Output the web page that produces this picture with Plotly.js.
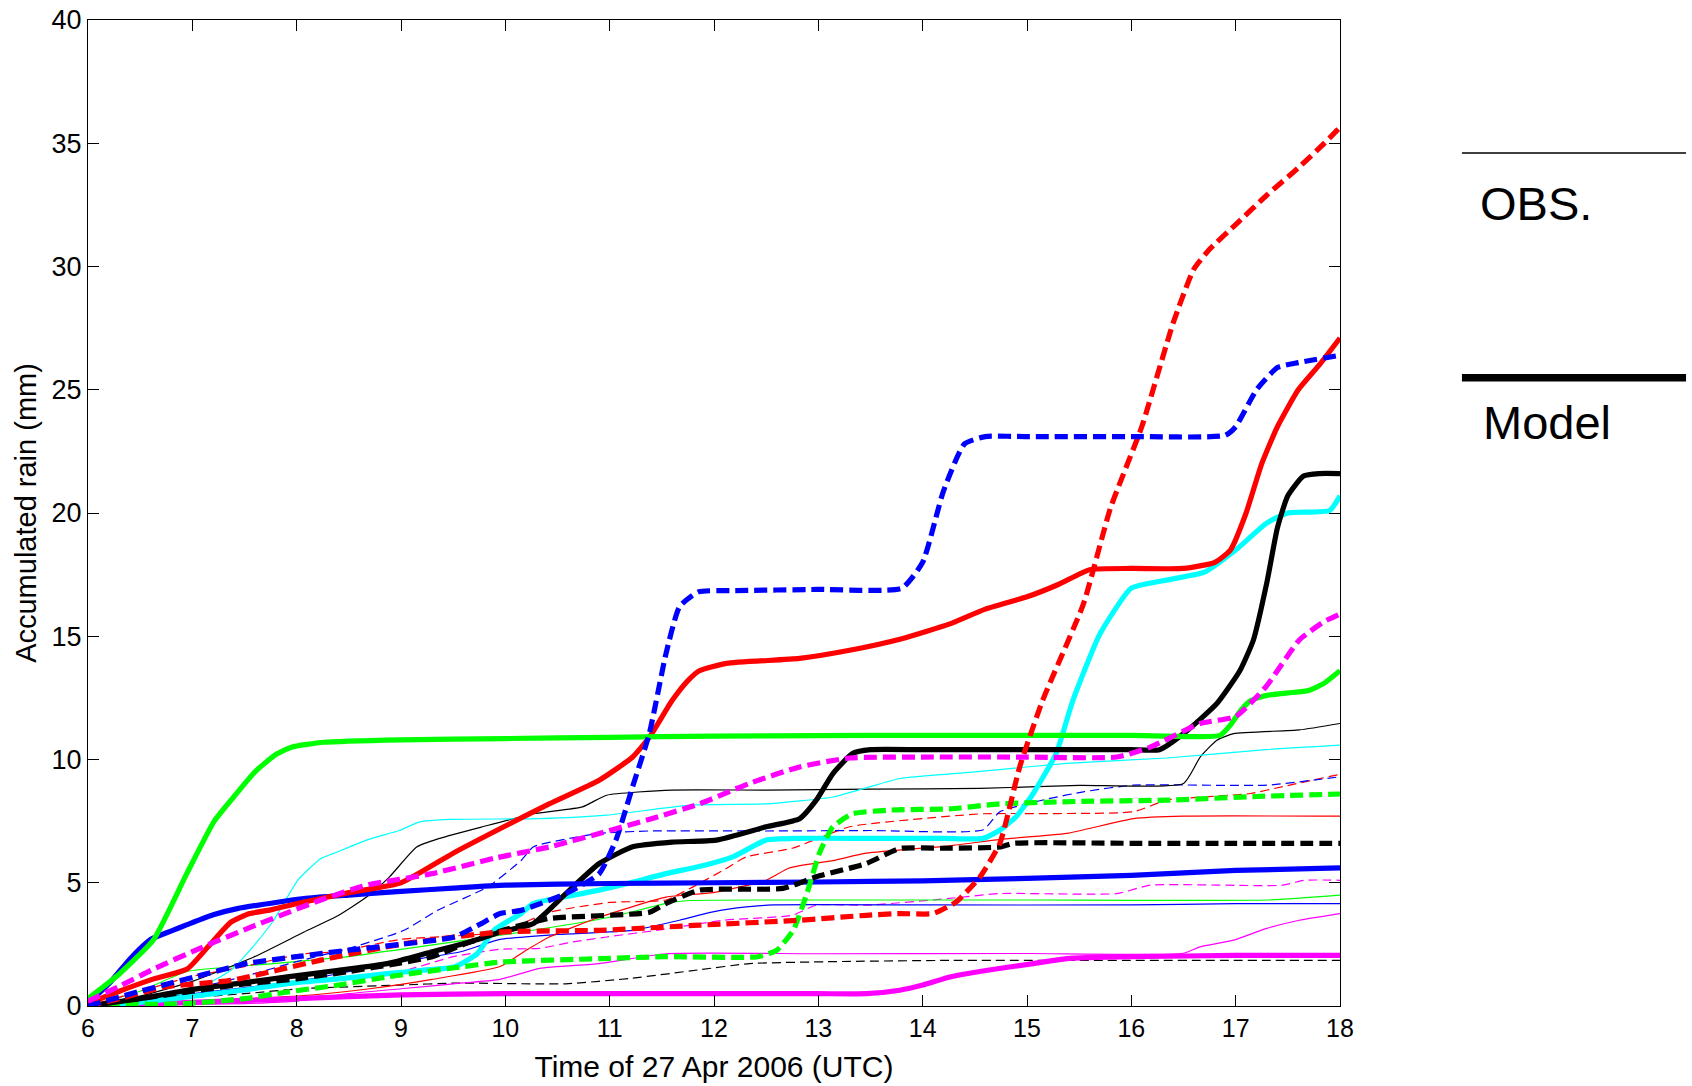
<!DOCTYPE html>
<html>
<head>
<meta charset="utf-8">
<script src="https://cdn.plot.ly/plotly-3.0.1.min.js"></script>
<style>
  html, body { margin: 0; padding: 0; background: #ffffff; }
  #chart { width: 1692px; height: 1086px; }
</style>
</head>
<body>
<div id="chart"></div>
<script>
// ---------- Axis ticks ----------
const xTicks = [6, 7, 8, 9, 10, 11, 12, 13, 14, 15, 16, 17, 18];
const yTicks = [0, 5, 10, 15, 20, 25, 30, 35, 40];

// ---------- OBS. (thin) series: time in hours UTC, accumulated rain (mm) ----------
const tObsCyan = [6.0, 6.5, 7.0, 7.37, 7.58, 7.78, 8.01, 8.23, 8.39, 8.67, 8.99, 9.18, 9.47, 10.33, 10.97, 11.77, 12.5, 13.14, 13.5, 13.78, 14.5, 15.38, 16.34, 17.29, 18.0];
const rObsCyan = [0.0, 0.2, 0.6, 1.45, 2.4, 3.48, 5.1, 5.97, 6.25, 6.73, 7.13, 7.47, 7.57, 7.6, 7.74, 8.15, 8.2, 8.48, 8.9, 9.23, 9.5, 9.84, 10.06, 10.4, 10.58];

const tObsBlack = [6.0, 6.5, 7.0, 7.59, 8.07, 8.39, 8.67, 8.89, 9.15, 9.37, 9.78, 10.27, 10.74, 10.97, 11.6, 12.5, 13.5, 14.55, 15.5, 16.5, 16.66, 16.82, 16.98, 17.61, 18.0];
const rObsBlack = [0.0, 0.4, 1.0, 1.99, 3.0, 3.65, 4.42, 5.24, 6.45, 6.8, 7.27, 7.8, 8.08, 8.55, 8.76, 8.76, 8.8, 8.83, 8.95, 9.03, 10.1, 10.78, 11.05, 11.2, 11.46];

const tObsBlueDash = [6.0, 6.5, 7.0, 7.5, 8.0, 8.55, 9.03, 9.35, 9.83, 10.15, 10.27, 10.9, 11.38, 12.5, 13.5, 14.58, 14.74, 15.2, 15.54, 16.02, 17.3, 18.0];
const rObsBlueDash = [0.0, 0.3, 0.7, 1.2, 1.8, 2.4, 3.07, 3.88, 4.83, 5.9, 6.46, 7.0, 7.1, 7.1, 7.12, 7.15, 7.88, 8.4, 8.69, 8.96, 8.96, 9.3];

const tObsRedDash = [6.0, 6.5, 7.0, 7.5, 8.03, 8.39, 8.99, 9.95, 10.42, 11.0, 11.54, 11.77, 12.09, 12.31, 12.75, 13.3, 14.26, 14.58, 16.02, 16.34, 17.14, 17.45, 18.0];
const rObsRedDash = [0.0, 0.6, 1.2, 1.6, 2.1, 2.2, 2.7, 3.0, 3.8, 4.2, 4.3, 4.77, 5.51, 6.05, 6.4, 7.27, 7.7, 7.8, 7.88, 8.35, 8.62, 8.9, 9.4];

const tObsRed = [6.0, 7.0, 8.0, 8.7, 9.3, 9.95, 10.2, 10.42, 10.9, 11.54, 11.99, 12.5, 12.72, 13.14, 13.46, 14.26, 14.74, 15.38, 16.02, 16.5, 18.0];
const rObsRed = [0.0, 0.2, 0.4, 0.7, 1.08, 1.6, 2.26, 2.8, 3.6, 4.42, 4.6, 5.1, 5.6, 5.9, 6.2, 6.5, 6.76, 7.0, 7.6, 7.7, 7.7];

const tObsGreen = [6.0, 6.5, 6.95, 7.78, 8.5, 9.0, 10.0, 11.0, 11.54, 11.77, 13.0, 15.0, 17.3, 18.0];
const rObsGreen = [0.0, 0.6, 1.4, 1.72, 2.0, 2.3, 2.9, 3.6, 4.16, 4.28, 4.3, 4.3, 4.3, 4.5];

const tObsBlue = [6.0, 7.0, 8.0, 9.0, 9.57, 9.95, 10.5, 11.22, 11.67, 11.99, 12.31, 12.57, 14.0, 16.0, 17.0, 18.0];
const rObsBlue = [0.0, 0.5, 1.0, 1.8, 2.2, 2.7, 2.9, 3.07, 3.48, 3.82, 4.02, 4.1, 4.1, 4.1, 4.15, 4.15];

const tObsMagentaDash = [6.0, 7.0, 8.0, 9.0, 9.5, 9.95, 10.33, 10.65, 10.97, 11.5, 12.09, 12.75, 12.98, 13.46, 14.1, 14.74, 15.86, 16.18, 17.45, 17.65, 18.0];
const rObsMagentaDash = [0.0, 0.4, 0.9, 1.4, 2.0, 2.3, 2.34, 2.6, 2.8, 3.1, 3.48, 3.68, 4.09, 4.09, 4.3, 4.56, 4.56, 4.9, 4.9, 5.1, 5.1];

const tObsMagenta = [6.0, 7.5, 8.0, 8.5, 9.0, 9.5, 9.95, 10.33, 10.9, 11.54, 13.0, 15.0, 16.5, 16.66, 16.98, 17.29, 17.61, 18.0];
const rObsMagenta = [0.0, 0.1, 0.2, 0.5, 0.7, 0.9, 1.08, 1.53, 1.72, 2.12, 2.12, 2.13, 2.14, 2.4, 2.67, 3.14, 3.48, 3.75];

const tObsBlackDash = [6.0, 6.5, 7.0, 7.5, 8.07, 9.0, 9.51, 10.58, 11.22, 11.86, 12.34, 13.14, 14.26, 18.0];
const rObsBlackDash = [0.0, 0.2, 0.35, 0.5, 0.71, 0.85, 0.93, 0.9, 1.13, 1.47, 1.72, 1.8, 1.85, 1.85];

// ---------- Model (thick) series ----------
const tModGreen = [6.0, 6.3, 6.63, 6.95, 7.21, 7.4, 7.6, 7.8, 7.95, 8.26, 9.0, 10.0, 11.0, 12.0, 13.0, 14.0, 15.0, 16.0, 16.85, 16.95, 17.05, 17.15, 17.3, 17.5, 17.7, 17.85, 18.0];
const rModGreen = [0.3, 1.3, 2.7, 5.4, 7.5, 8.5, 9.5, 10.2, 10.5, 10.7, 10.8, 10.85, 10.9, 10.95, 10.97, 10.98, 10.98, 10.98, 10.98, 11.4, 12.0, 12.4, 12.6, 12.7, 12.8, 13.1, 13.6];

const tModBlue = [6.0, 6.2, 6.4, 6.6, 6.8, 6.95, 7.2, 7.43, 7.8, 8.07, 8.5, 9.0, 9.5, 10.0, 11.0, 12.0, 13.0, 14.0, 15.0, 16.0, 17.0, 18.0];
const rModBlue = [0.1, 0.9, 1.9, 2.7, 3.05, 3.3, 3.7, 3.95, 4.2, 4.36, 4.5, 4.65, 4.78, 4.9, 4.97, 5.0, 5.03, 5.08, 5.18, 5.3, 5.5, 5.6];

const tModRed = [6.0, 6.3, 6.63, 6.95, 7.15, 7.37, 7.55, 7.75, 8.05, 8.5, 9.0, 9.5, 10.0, 10.42, 10.9, 11.22, 11.38, 11.6, 11.75, 11.86, 12.12, 12.82, 13.3, 13.8, 14.26, 14.6, 15.0, 15.3, 15.6, 16.0, 16.5, 16.8, 16.95, 17.1, 17.25, 17.4, 17.6, 17.8, 18.0];
const rModRed = [0.1, 0.6, 1.1, 1.5, 2.4, 3.4, 3.75, 3.9, 4.2, 4.6, 5.0, 6.2, 7.3, 8.2, 9.16, 10.1, 10.9, 12.4, 13.2, 13.6, 13.9, 14.1, 14.43, 14.9, 15.5, 16.1, 16.6, 17.1, 17.7, 17.75, 17.75, 18.0, 18.5, 20.0, 22.0, 23.5, 25.0, 26.0, 27.1];

const tModBlack = [6.0, 6.5, 6.95, 7.5, 7.91, 8.4, 8.87, 9.3, 9.7, 9.95, 10.27, 10.58, 10.9, 11.22, 11.6, 12.02, 12.5, 12.82, 12.98, 13.14, 13.33, 13.5, 14.0, 15.0, 16.0, 16.27, 16.5, 16.82, 17.04, 17.17, 17.3, 17.4, 17.5, 17.65, 17.8, 18.0];
const rModBlack = [0.0, 0.3, 0.64, 0.95, 1.18, 1.45, 1.72, 2.2, 2.65, 3.0, 3.35, 4.56, 5.78, 6.46, 6.65, 6.73, 7.27, 7.6, 8.35, 9.43, 10.25, 10.4, 10.4, 10.4, 10.4, 10.4, 11.05, 12.27, 13.6, 14.85, 17.2, 19.4, 20.7, 21.5, 21.6, 21.6];

const tModCyan = [6.0, 6.5, 6.95, 7.5, 7.91, 8.4, 8.87, 9.2, 9.51, 9.73, 9.89, 10.15, 10.27, 10.6, 10.9, 11.2, 11.54, 11.9, 12.18, 12.5, 12.8, 13.5, 14.2, 14.58, 14.74, 14.9, 15.06, 15.28, 15.44, 15.7, 16.0, 16.3, 16.7, 17.0, 17.3, 17.5, 17.9, 18.0];
const rModCyan = [0.0, 0.15, 0.37, 0.65, 0.91, 1.1, 1.31, 1.45, 1.58, 2.12, 3.07, 3.75, 4.16, 4.45, 4.7, 5.0, 5.37, 5.7, 6.05, 6.73, 6.8, 6.8, 6.8, 6.8, 7.13, 7.7, 8.62, 10.25, 12.4, 15.1, 16.95, 17.25, 17.6, 18.5, 19.6, 20.0, 20.1, 20.7];

const tModMagenta = [6.0, 7.0, 8.0, 9.0, 10.0, 11.0, 12.0, 13.0, 13.46, 13.78, 14.0, 14.26, 14.42, 14.7, 15.06, 15.38, 16.0, 17.0, 18.0];
const rModMagenta = [0.0, 0.15, 0.3, 0.45, 0.5, 0.5, 0.5, 0.5, 0.5, 0.64, 0.85, 1.18, 1.31, 1.5, 1.72, 1.92, 2.0, 2.05, 2.05];

const tModBlueDash = [6.0, 6.5, 7.02, 7.53, 8.0, 8.49, 9.0, 9.51, 9.75, 9.95, 10.15, 10.58, 10.9, 11.06, 11.22, 11.38, 11.54, 11.67, 11.85, 12.2, 13.0, 13.8, 14.0, 14.2, 14.4, 14.6, 15.0, 16.0, 16.9, 17.0, 17.2, 17.4, 17.6, 18.0];
const rModBlueDash = [0.0, 0.6, 1.18, 1.73, 2.0, 2.26, 2.5, 2.8, 3.3, 3.75, 3.88, 4.56, 5.37, 6.73, 8.9, 11.05, 14.3, 16.2, 16.8, 16.85, 16.9, 16.95, 18.0, 20.9, 22.8, 23.1, 23.1, 23.1, 23.15, 23.5, 25.0, 25.9, 26.1, 26.4];

const tModRedDash = [6.0, 6.3, 6.73, 7.37, 8.23, 9.03, 9.95, 10.9, 11.86, 12.82, 13.46, 13.78, 14.1, 14.32, 14.55, 14.74, 14.93, 15.15, 15.54, 15.8, 16.1, 16.4, 16.6, 16.75, 17.0, 17.3, 17.6, 17.85, 18.0];
const rModRedDash = [0.0, 0.3, 0.77, 1.04, 1.86, 2.53, 3.0, 3.07, 3.28, 3.48, 3.68, 3.75, 3.75, 4.22, 5.24, 6.6, 9.7, 12.4, 16.3, 20.2, 23.5, 27.7, 29.9, 30.7, 31.7, 32.9, 34.0, 35.0, 35.65];

const tModBlackDash = [6.0, 6.5, 7.0, 7.5, 8.0, 8.5, 9.0, 9.3, 9.62, 10.0, 10.42, 11.38, 11.54, 11.86, 12.66, 12.98, 13.46, 13.78, 14.2, 14.74, 14.87, 16.0, 17.0, 18.0];
const rModBlackDash = [0.0, 0.3, 0.6, 0.9, 1.1, 1.4, 1.75, 2.0, 2.53, 3.1, 3.55, 3.8, 4.16, 4.7, 4.77, 5.24, 5.78, 6.39, 6.4, 6.45, 6.6, 6.6, 6.6, 6.6];

const tModGreenDash = [6.0, 6.3, 6.95, 7.5, 7.91, 8.4, 8.87, 9.51, 9.95, 10.9, 11.54, 12.42, 12.6, 12.76, 12.89, 13.01, 13.14, 13.33, 13.7, 14.26, 14.74, 15.5, 16.34, 17.2, 18.0];
const rModGreenDash = [0.0, 0.05, 0.1, 0.3, 0.57, 0.85, 1.18, 1.55, 1.78, 1.92, 2.0, 2.0, 2.26, 3.07, 4.56, 6.2, 7.27, 7.8, 7.95, 8.0, 8.2, 8.3, 8.35, 8.5, 8.6];

const tModMagentaDash = [6.0, 6.3, 6.63, 7.05, 7.59, 8.23, 8.67, 9.3, 9.9, 10.42, 10.9, 11.4, 11.86, 12.34, 12.82, 13.3, 14.0, 15.0, 15.86, 16.18, 16.66, 17.0, 17.29, 17.61, 17.85, 18.0];
const rModMagentaDash = [0.2, 0.8, 1.5, 2.3, 3.25, 4.3, 4.9, 5.37, 6.0, 6.45, 7.0, 7.6, 8.2, 9.03, 9.7, 10.06, 10.1, 10.1, 10.1, 10.5, 11.46, 11.75, 12.95, 14.85, 15.6, 15.9];

// ---------- Styles ----------
const RED = '#ff0000', BLUE = '#0000ff', GREEN = '#00ff00', CYAN = '#00ffff', MAGENTA = '#ff00ff', BLACK = '#000000';
const THIN = 1.2, THICK = 5.2;
const THIN_DASH = '9px,5px', THICK_DASH = '13px,6px';

function tr(name, x, y, color, width, dash) {
  return {
    type: 'scatter', mode: 'lines', name: name, x: x, y: y,
    line: { color: color, width: width, dash: dash || 'solid', shape: 'spline', smoothing: 0.5 },
    showlegend: false, hoverinfo: 'x+y+name'
  };
}

const traces = [
  tr('OBS black dashed', tObsBlackDash, rObsBlackDash, BLACK, THIN, THIN_DASH),
  tr('OBS magenta', tObsMagenta, rObsMagenta, MAGENTA, THIN),
  tr('OBS magenta dashed', tObsMagentaDash, rObsMagentaDash, MAGENTA, THIN, THIN_DASH),
  tr('OBS blue', tObsBlue, rObsBlue, BLUE, THIN),
  tr('OBS green', tObsGreen, rObsGreen, GREEN, THIN),
  tr('OBS red', tObsRed, rObsRed, RED, THIN),
  tr('OBS red dashed', tObsRedDash, rObsRedDash, RED, THIN, THIN_DASH),
  tr('OBS blue dashed', tObsBlueDash, rObsBlueDash, BLUE, THIN, THIN_DASH),
  tr('OBS black', tObsBlack, rObsBlack, BLACK, THIN),
  tr('OBS cyan', tObsCyan, rObsCyan, CYAN, THIN),
  tr('Model magenta', tModMagenta, rModMagenta, MAGENTA, THICK),
  tr('Model cyan', tModCyan, rModCyan, CYAN, THICK),
  tr('Model black', tModBlack, rModBlack, BLACK, THICK),
  tr('Model blue', tModBlue, rModBlue, BLUE, THICK),
  tr('Model red', tModRed, rModRed, RED, THICK),
  tr('Model green', tModGreen, rModGreen, GREEN, THICK),
  tr('Model green dashed', tModGreenDash, rModGreenDash, GREEN, THICK, THICK_DASH),
  tr('Model black dashed', tModBlackDash, rModBlackDash, BLACK, THICK, THICK_DASH),
  tr('Model red dashed', tModRedDash, rModRedDash, RED, THICK, THICK_DASH),
  tr('Model blue dashed', tModBlueDash, rModBlueDash, BLUE, THICK, THICK_DASH),
  tr('Model magenta dashed', tModMagentaDash, rModMagentaDash, MAGENTA, THICK, THICK_DASH)
];

const FONT = 'Liberation Sans, Arial, Helvetica, sans-serif';

const layout = {
  width: 1692, height: 1086,
  paper_bgcolor: '#ffffff', plot_bgcolor: '#ffffff',
  margin: { l: 88, r: 352, t: 20, b: 80 },
  font: { family: FONT, color: '#000000', size: 24 },
  showlegend: false,
  xaxis: {
    range: [6, 18], tickvals: xTicks, ticktext: xTicks.map(String),
    ticks: 'inside', ticklen: 11, tickwidth: 1, tickcolor: '#000000',
    showline: true, linecolor: '#000000', linewidth: 1, mirror: 'ticks',
    showgrid: false, zeroline: false,
    tickfont: { family: FONT, size: 25, color: '#000000' },
    title: { text: 'Time of 27 Apr 2006 (UTC)', font: { family: FONT, size: 30, color: '#000000' }, standoff: 14 }
  },
  yaxis: {
    range: [0, 40], tickvals: yTicks, ticktext: yTicks.map(String),
    ticks: 'inside', ticklen: 11, tickwidth: 1, tickcolor: '#000000',
    showline: true, linecolor: '#000000', linewidth: 1, mirror: 'ticks',
    showgrid: false, zeroline: false,
    tickfont: { family: FONT, size: 27, color: '#000000' },
    title: { text: 'Accumulated rain (mm)', font: { family: FONT, size: 29, color: '#000000' }, standoff: 6 }
  },
  shapes: [
    { type: 'line', xref: 'paper', yref: 'paper', x0: 1.0974, x1: 1.2764, y0: 0.8651, y1: 0.8651,
      line: { color: '#000000', width: 1.5 } },
    { type: 'line', xref: 'paper', yref: 'paper', x0: 1.0974, x1: 1.2764, y0: 0.6372, y1: 0.6372,
      line: { color: '#000000', width: 7.5 } }
  ],
  annotations: [
    { xref: 'paper', yref: 'paper', x: 1.1102, y: 0.8144, xanchor: 'left', yanchor: 'middle',
      text: 'OBS.', showarrow: false, font: { family: FONT, size: 47, color: '#000000' } },
    { xref: 'paper', yref: 'paper', x: 1.1126, y: 0.5913, xanchor: 'left', yanchor: 'middle',
      text: 'Model', showarrow: false, font: { family: FONT, size: 47, color: '#000000' } }
  ]
};

Plotly.newPlot('chart', traces, layout, { displayModeBar: false, staticPlot: true });
</script>
</body>
</html>
